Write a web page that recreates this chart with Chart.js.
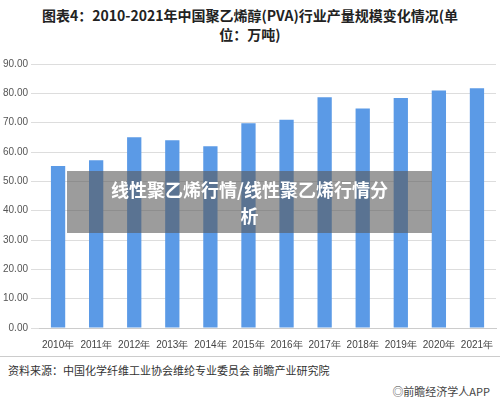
<!DOCTYPE html><html><head><meta charset="utf-8"><script src="https://cdn.jsdelivr.net/npm/chart.js@4"></script>
<style>body{margin:0;width:500px;height:405px;background:#fff;font-family:"Noto Sans CJK SC",sans-serif;position:relative;overflow:hidden}
#t{position:absolute;left:0;top:6px;width:500px;text-align:center;font-weight:bold;font-size:14px;line-height:19px;color:#222}
#c{position:absolute;left:0;top:50px;width:500px;height:304px}
#ov{position:absolute;left:67px;top:171px;width:365px;height:62px;background:rgba(90,90,90,0.6);color:#fff;font-weight:bold;font-size:18px;line-height:26px;text-align:center;padding-top:5px;box-sizing:border-box}
#src{position:absolute;left:8px;top:362px;font-size:11px;color:#333}
#hr{position:absolute;left:0;top:356px;width:500px;border-top:1px solid #ccc}
#lg{position:absolute;right:10px;top:383px;font-size:11px;color:#444}</style></head><body>
<div id="t">图表4：2010-2021年中国聚乙烯醇(PVA)行业产量规模变化情况(单<br>位：万吨)</div>
<div id="c"><canvas id="cv"></canvas></div>
<div id="ov">线性聚乙烯行情/线性聚乙烯行情分<br>析</div>
<div id="hr"></div>
<div id="src">资料来源：中国化学纤维工业协会维纶专业委员会 前瞻产业研究院</div>
<div id="lg">◎前瞻经济学人APP</div>
<script>
const categories=["2010年","2011年","2012年","2013年","2014年","2015年","2016年","2017年","2018年","2019年","2020年","2021年"];
const values=[55.2,57.2,65,64,62,69.8,71,78.7,74.8,78.4,81,81.7];
new Chart(document.getElementById('cv'),{type:'bar',data:{labels:categories,datasets:[{data:values,backgroundColor:'#5b9ae6',categoryPercentage:0.75,barPercentage:0.5}]},
options:{responsive:true,maintainAspectRatio:false,animation:false,layout:{padding:{left:0,right:4,top:14,bottom:0}},plugins:{legend:{display:false},tooltip:{enabled:false}},
scales:{x:{grid:{display:false},border:{color:'#ccc'},ticks:{color:'#444',font:{size:10},maxRotation:0,autoSkip:false}},
y:{min:0,max:90,ticks:{stepSize:10,color:'#555',font:{size:10},callback:v=>v.toFixed(2)},grid:{color:'#ddd'},border:{display:false}}}}});
</script></body></html>
